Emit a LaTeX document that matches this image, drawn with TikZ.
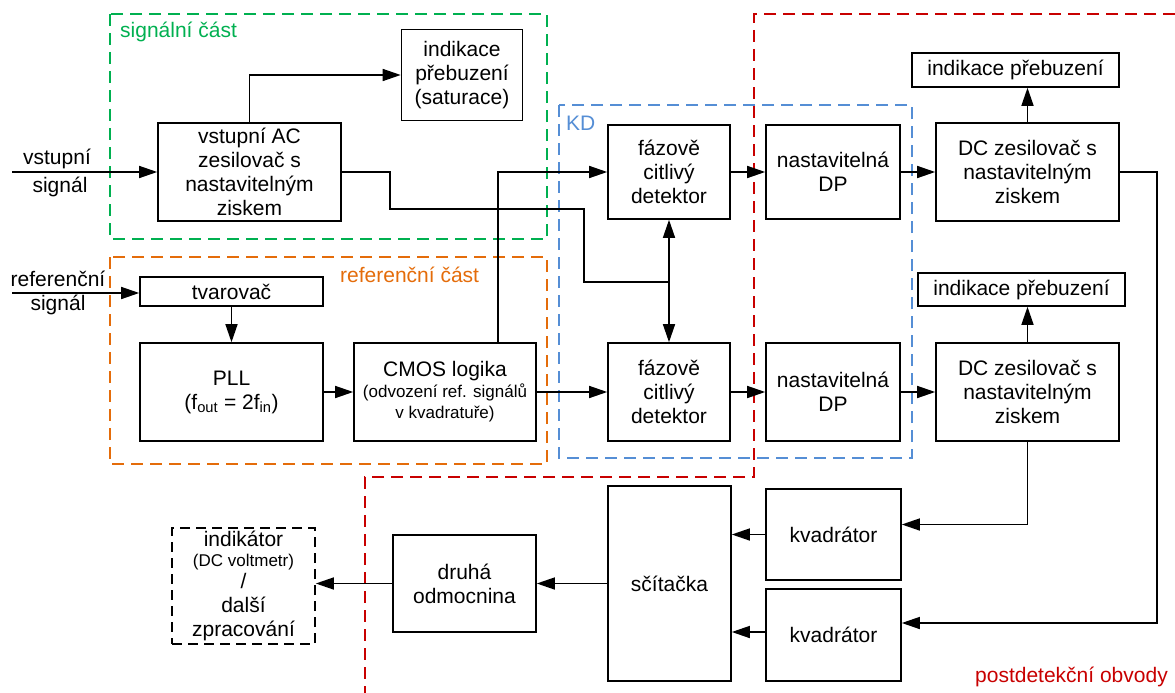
\documentclass[tikz,border=0pt]{standalone}
\usepackage{fontspec}
\setmainfont{Liberation Sans}
\usetikzlibrary{arrows.meta}

\definecolor{grpgreen}{RGB}{0,176,80}
\definecolor{grporange}{RGB}{228,108,10}
\definecolor{grpblue}{RGB}{85,142,213}
\definecolor{grpred}{RGB}{200,0,0}

\newcommand\mainfs{\fontsize{21}{24}\selectfont}
\newcommand\smallfs{\fontsize{17}{21}\selectfont}

\tikzset{
  blk/.style={draw, line width=1.6pt, align=center, inner sep=0pt, font=\mainfs},
  wire/.style={line width=1.5pt},
  arr/.style={line width=1.5pt, -{Triangle[length=18pt,width=12pt]}},
  dblarr/.style={line width=1.5pt, {Triangle[length=18pt,width=12pt]}-{Triangle[length=18pt,width=12pt]}},
  grp/.style={line width=1.6pt, dash pattern=on 12pt off 7pt},
  lbl/.style={font=\mainfs, inner sep=0pt},
}

\begin{document}
\begin{tikzpicture}[x=1pt,y=-1pt]
\useasboundingbox (0,0) rectangle (1175,693);

% group frames
\draw[grp, grpgreen] (110,14) rectangle (547,239);
\draw[grp, grporange] (110,257) rectangle (547,464);
\draw[grp, grpblue] (559,105) rectangle (912,458);
\draw[grp, grpred] (1175,14) -- (754,14) -- (754,477) -- (365,477) -- (365,693);

\node[lbl, grpgreen, anchor=west] (gsig) at (120,32) {signální část};
\node[lbl, grporange, anchor=west] (gref) at (340,275) {referenční část};
\node[lbl, grpblue, anchor=west] (gkd) at (566,123) {KD};
\node[lbl, grpred, anchor=east] (gpost) at (1168,677) {postdetekční obvody};

% signal path
\node[blk, minimum width=121pt, minimum height=91pt] (sat) at (462,75)
  {indikace\\přebuzení\\(saturace)};
\node[blk, minimum width=183pt, minimum height=98pt] (vac) at (249.5,172)
  {vstupní AC\\zesilovač s\\nastavitelným\\ziskem};

% reference path
\node[blk, minimum width=183pt, minimum height=29pt] (tvar) at (231.5,291.5) {tvarovač};
\node[blk, minimum width=183pt, minimum height=98pt] (pll) at (231.5,392)
  {PLL\\(f\textsubscript{out} = 2f\textsubscript{in})};
\node[blk, minimum width=182pt, minimum height=98pt] (cmos) at (445,392)
  {CMOS logika\\[-3pt]{\smallfs (odvození ref. signálů}\\[-3pt]{\smallfs v kvadratuře)}};

% detectors and following stages
\node[blk, minimum width=122pt, minimum height=94pt] (det1) at (669,172)
  {fázově\\citlivý\\detektor};
\node[blk, minimum width=122pt, minimum height=98pt] (det2) at (669,392)
  {fázově\\citlivý\\detektor};
\node[blk, minimum width=134pt, minimum height=94pt] (dp1) at (833,172)
  {nastavitelná\\DP};
\node[blk, minimum width=134pt, minimum height=98pt] (dp2) at (833,392)
  {nastavitelná\\DP};
\node[blk, minimum width=183pt, minimum height=98pt] (dc1) at (1027.5,172)
  {DC zesilovač s\\nastavitelným\\ziskem};
\node[blk, minimum width=183pt, minimum height=98pt] (dc2) at (1027.5,392)
  {DC zesilovač s\\nastavitelným\\ziskem};
\node[blk, minimum width=207pt, minimum height=34pt] (ovl1) at (1015.5,70) {indikace přebuzení};
\node[blk, minimum width=207pt, minimum height=33pt] (ovl2) at (1021.5,289.5) {indikace přebuzení};

% post-detection stages
\node[blk, minimum width=135pt, minimum height=91pt] (kv1) at (833.5,534.5) {kvadrátor};
\node[blk, minimum width=135pt, minimum height=92pt] (kv2) at (833.5,635) {kvadrátor};
\node[blk, minimum width=123pt, minimum height=195pt] (sum) at (669.5,583.5) {sčítačka};
\node[blk, minimum width=143pt, minimum height=97pt] (sqrt) at (464.5,583.5)
  {druhá\\odmocnina};
\node[blk, dashed, dash pattern=on 10pt off 6pt, minimum width=143pt, minimum height=116pt] (out) at (243.5,586)
  {indikátor\\[-4pt]{\smallfs (DC voltmetr)}\\[-2pt]/\\další\\zpracování};

% inputs
\coordinate (insig) at (12,172);
\coordinate (inref) at (12,293);
\node[lbl] (insigA) at (57,159) {vstupní};
\node[lbl] (insigB) at (60,187) {signál};
\node[lbl] (inrefA) at (58,279) {referenční};
\node[lbl] (inrefB) at (58,305) {signál};
\draw[arr] (insig) -- (vac.west);
\draw[arr] (inref) -- (inref -| tvar.west);

% signal part wiring
\draw[arr] (vac.north) |- (sat.west);
\coordinate (split) at (det1.south |- 0,282);
\draw[wire] (vac.east) -- (390,172) -- (390,209) -- (584,209) -- (584,282) -- (split);
\draw[arr] (split) -- (det1.south);
\draw[arr] (split) -- (det2.north);

% reference part wiring
\draw[arr] (tvar.south) -- (pll.north);
\draw[arr] (pll.east) -- (cmos.west);
\draw[arr] (cmos.north -| 498,0) -- (498,172) -- (det1.west);
\draw[arr] (cmos.east) -- (det2.west);

% detection channels
\draw[arr] (det1.east) -- (dp1.west);
\draw[arr] (det2.east) -- (dp2.west);
\draw[arr] (dp1.east) -- (dc1.west);
\draw[arr] (dp2.east) -- (dc2.west);
\draw[arr] (dc1.north) -- (dc1.north |- ovl1.south);
\draw[arr] (dc2.north) -- (dc2.north |- ovl2.south);

% post-detection wiring
\draw[arr] (dc2.south) |- ([yshift=10pt]kv1.east);
\draw[arr] (dc1.east) -- (1157,172) |- ([yshift=12pt]kv2.east);
\draw[arr] (kv1.west) -- (kv1.west -| sum.east);
\draw[arr] ([yshift=3pt]kv2.west) -- ([yshift=3pt]kv2.west -| sum.east);
\draw[arr] (sum.west) -- (sqrt.east);
\draw[arr] (sqrt.west) -- (sqrt.west -| out.east);
\end{tikzpicture}
\end{document}
